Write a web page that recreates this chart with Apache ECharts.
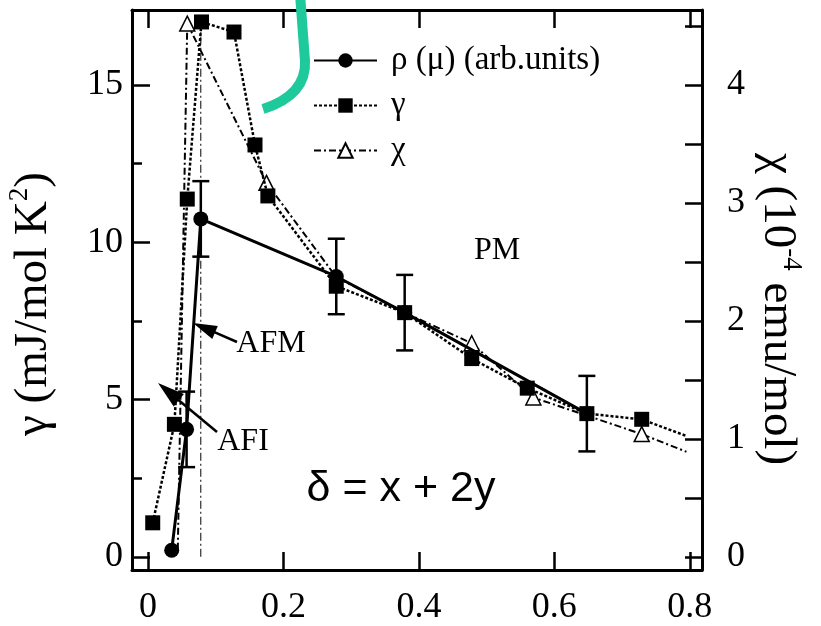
<!DOCTYPE html>
<html>
<head>
<meta charset="utf-8">
<script src="https://cdn.jsdelivr.net/npm/echarts@6/dist/echarts.min.js"></script>
<style>
  html, body { margin: 0; padding: 0; background: #fff; }
  #chart { width: 821px; height: 626px; }
</style>
</head>
<body>
<div id="chart"></div>
<script>
const SERIF = '"Liberation Serif", "Times New Roman", serif';
const SANS = '"Liberation Sans", Arial, sans-serif';

// Resistivity rho (mu), arbitrary units drawn on the gamma scale, with error bars
const rhoX   = [0.035, 0.057, 0.078, 0.278, 0.379, 0.648];
const rhoY   = [0.21, 4.05, 10.74, 8.91, 7.76, 4.55];
const rhoErr = [0, 1.2, 1.2, 1.2, 1.2, 1.2];

// Sommerfeld coefficient gamma (mJ/mol K^2)
const gammaX = [0.007, 0.039, 0.058, 0.079, 0.127, 0.158, 0.177, 0.278, 0.379, 0.478, 0.560, 0.648, 0.729, 0.795];
const gammaY = [1.08, 4.21, 11.37, 17.0, 16.68, 13.09, 11.47, 8.6, 7.76, 6.3, 5.36, 4.55, 4.37, 3.84];
const gammaBare = [13];            // line end, no marker

// Susceptibility chi (1e-4 emu/mol), right axis
const chiX = [0.044, 0.058, 0.175, 0.278, 0.379, 0.478, 0.569, 0.729, 0.795];
const chiY = [0.06, 4.52, 3.17, 2.37, 2.07, 1.81, 1.35, 1.04, 0.89];
const chiBare = [0, 3, 4, 8];      // points hidden under other marks / line end

// AFM/PM boundary at delta = 0.078
const boundaryX = [0.078, 0.078];
const boundaryY = [0, 17];

// Axis ranges and ticks
const xRange = [-0.0236, 0.818];
const xTicks = [0, 0.2, 0.4, 0.6, 0.8];
const gammaRange = [-0.42, 17.38];
const gammaTicks = [0, 5, 10, 15];
const gammaMinor = [2.5, 7.5, 12.5];
const chiRange = [-0.112, 4.635];
const chiTicks = [0, 0.5, 1, 1.5, 2, 2.5, 3, 3.5, 4, 4.5];
const chiLabels = [0, 1, 2, 3, 4];

const NAMES = { rho: 'ρ (μ) (arb.units)', gamma: 'γ', chi: 'χ' };

const pairs = (xs, ys, bare) => xs.map((x, i) => {
  const item = { value: [x, ys[i]] };
  if (bare && bare.includes(i)) item.symbol = 'none';
  return item;
});

const errData = rhoX.map((x, i) => [x, rhoY[i] - rhoErr[i], rhoY[i] + rhoErr[i], rhoErr[i]])
                    .filter(d => d[3] > 0);

const black = '#000';
const frameLine = { show: true, onZero: false, lineStyle: { color: black, width: 3 } };
const labelStyle = { color: black, fontFamily: SERIF, fontSize: 36 };

function arrow(tail, tip, headLen, halfW) {
  const dx = tip[0] - tail[0], dy = tip[1] - tail[1];
  const len = Math.hypot(dx, dy);
  const ux = dx / len, uy = dy / len;
  const bx = tip[0] - ux * headLen, by = tip[1] - uy * headLen;
  return [
    { type: 'line', shape: { x1: tail[0], y1: tail[1], x2: bx + ux * 2, y2: by + uy * 2 },
      style: { stroke: black, lineWidth: 2.5 }, z: 20 },
    { type: 'polygon',
      shape: { points: [tip, [bx - uy * halfW, by + ux * halfW], [bx + uy * halfW, by - ux * halfW]] },
      style: { fill: black }, z: 20 }
  ];
}

const titleRich = {
  m: { fontFamily: SERIF, fontSize: 47, fill: black, lineHeight: 56 },
  s: { fontFamily: SERIF, fontSize: 27, fill: black, verticalAlign: 'top', lineHeight: 56 }
};

const chart = echarts.init(document.getElementById('chart'), null, { renderer: 'canvas' });

chart.setOption({
  animation: false,
  backgroundColor: '#fff',
  grid: { left: 132, right: 119, top: 10, bottom: 48, containLabel: false },
  legend: {
    orient: 'vertical',
    left: 313,
    top: 44,
    padding: 0,
    itemWidth: 63,
    itemHeight: 18,
    itemGap: 12,
    data: [NAMES.rho, NAMES.gamma, NAMES.chi],
    textStyle: { color: black, fontFamily: SERIF, fontSize: 33, padding: [0, 0, 0, 9] }
  },
  xAxis: [
    {
      type: 'value', position: 'bottom', min: xRange[0], max: xRange[1],
      axisLine: frameLine,
      axisTick: { show: true, inside: true, length: 18, lineStyle: { color: black, width: 2.5 }, customValues: xTicks },
      axisLabel: Object.assign({ margin: 20, customValues: xTicks,
        formatter: v => String(Math.round(v * 10) / 10) }, labelStyle),
      splitLine: { show: false }
    },
    {
      type: 'value', position: 'top', min: xRange[0], max: xRange[1],
      axisLine: frameLine,
      axisTick: { show: true, inside: true, length: 18, lineStyle: { color: black, width: 2.5 }, customValues: xTicks },
      axisLabel: { show: false },
      splitLine: { show: false }
    }
  ],
  yAxis: [
    {
      type: 'value', position: 'left', min: gammaRange[0], max: gammaRange[1],
      axisLine: frameLine,
      axisTick: { show: true, inside: true, length: 18, lineStyle: { color: black, width: 2.5 }, customValues: gammaTicks },
      axisLabel: Object.assign({ margin: 9, customValues: gammaTicks }, labelStyle),
      splitLine: { show: false }
    },
    {
      type: 'value', position: 'right', min: chiRange[0], max: chiRange[1],
      axisLine: frameLine,
      axisTick: { show: true, inside: true, length: 17, lineStyle: { color: black, width: 2.5 }, customValues: chiTicks },
      axisLabel: Object.assign({ margin: 25, customValues: chiLabels }, labelStyle),
      splitLine: { show: false }
    },
    {
      // minor ticks of the gamma axis
      type: 'value', position: 'left', min: gammaRange[0], max: gammaRange[1],
      axisLine: { show: false, onZero: false },
      axisTick: { show: true, inside: true, length: 10, lineStyle: { color: black, width: 2.5 }, customValues: gammaMinor },
      axisLabel: { show: false },
      splitLine: { show: false }
    }
  ],
  series: [
    {
      name: 'boundary', type: 'line', xAxisIndex: 0, yAxisIndex: 0,
      data: boundaryX.map((x, i) => [x, boundaryY[i]]),
      symbol: 'none', silent: true, z: 1,
      lineStyle: { color: black, width: 1, type: [8, 3, 2, 3] }
    },
    {
      name: NAMES.chi, type: 'line', xAxisIndex: 0, yAxisIndex: 1,
      data: pairs(chiX, chiY, chiBare),
      symbol: 'triangle', symbolSize: 15, z: 2,
      itemStyle: { color: '#fff', borderColor: black, borderWidth: 1.5 },
      lineStyle: { color: black, width: 2, type: [7, 3, 2, 3] }
    },
    {
      name: NAMES.gamma, type: 'line', xAxisIndex: 0, yAxisIndex: 0,
      data: pairs(gammaX, gammaY, gammaBare),
      symbol: 'rect', symbolSize: 15, z: 3,
      itemStyle: { color: black },
      lineStyle: { color: black, width: 2.5, type: [3, 2] }
    },
    {
      name: 'rho error', type: 'custom', xAxisIndex: 0, yAxisIndex: 0, z: 4,
      data: errData,
      encode: { x: 0, y: [1, 2] },
      renderItem: (params, api) => {
        const x = api.value(0);
        const lo = api.coord([x, api.value(1)]);
        const hi = api.coord([x, api.value(2)]);
        const w = 8.5;
        const st = { stroke: black, lineWidth: 2.5 };
        return {
          type: 'group',
          children: [
            { type: 'line', shape: { x1: lo[0], y1: lo[1], x2: hi[0], y2: hi[1] }, style: st },
            { type: 'line', shape: { x1: hi[0] - w, y1: hi[1], x2: hi[0] + w, y2: hi[1] }, style: st },
            { type: 'line', shape: { x1: lo[0] - w, y1: lo[1], x2: lo[0] + w, y2: lo[1] }, style: st }
          ]
        };
      }
    },
    {
      name: NAMES.rho, type: 'line', xAxisIndex: 0, yAxisIndex: 0,
      data: pairs(rhoX, rhoY),
      symbol: 'circle', symbolSize: 15, z: 5,
      itemStyle: { color: black },
      lineStyle: { color: black, width: 3 }
    }
  ],
  graphic: [
    // axis titles
    {
      type: 'text', x: 34, y: 304, rotation: Math.PI / 2, z: 10,
      style: { text: '{m|γ (mJ/mol K}{s|2}{m|)}', align: 'center', verticalAlign: 'middle', rich: titleRich }
    },
    {
      type: 'text', x: 777, y: 309, rotation: -Math.PI / 2, z: 10,
      style: { text: '{m|χ (10}{s|-4}{m| emu/mol)}', align: 'center', verticalAlign: 'middle', rich: titleRich }
    },
    // phase labels
    { type: 'text', x: 497, y: 251, z: 10,
      style: { text: 'PM', fontFamily: SERIF, fontSize: 32, fill: black, align: 'center', verticalAlign: 'middle' } },
    { type: 'text', x: 271, y: 344, z: 10,
      style: { text: 'AFM', fontFamily: SERIF, fontSize: 32, fill: black, align: 'center', verticalAlign: 'middle' } },
    { type: 'text', x: 243, y: 442, z: 10,
      style: { text: 'AFI', fontFamily: SERIF, fontSize: 32, fill: black, align: 'center', verticalAlign: 'middle' } },
    ...arrow([237, 342], [193, 323], 24, 7),
    ...arrow([217, 432], [158, 383], 27, 8),
    // composition formula
    { type: 'text', x: 401, y: 489, z: 10,
      style: { text: 'δ = x + 2y', fontFamily: SANS, fontSize: 43, fill: black, align: 'center', verticalAlign: 'middle' } },
    // highlighter stroke: straight part, then the bend
    { type: 'line', z: 30,
      shape: { x1: 300, y1: -6, x2: 305, y2: 61 },
      style: { stroke: '#1ec99b', lineWidth: 10 } },
    { type: 'bezierCurve', z: 30,
      shape: { x1: 305, y1: 60, cpx1: 307, cpy1: 95, x2: 263, y2: 109 },
      style: { fill: null, stroke: '#1ec99b', lineWidth: 10 } }
  ]
});
</script>
</body>
</html>
